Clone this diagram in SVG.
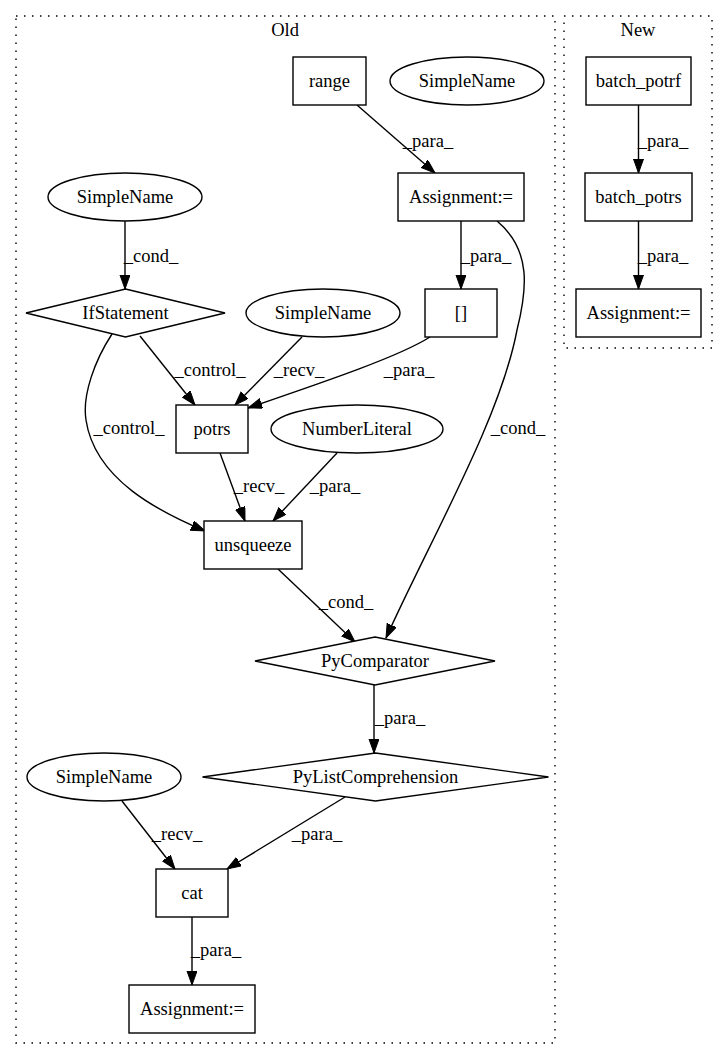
<svg xmlns="http://www.w3.org/2000/svg" width="728" height="1060" viewBox="0 0 728 1060">
<style>
text{font-family:"Liberation Serif","Times New Roman",serif;font-size:18.5px;fill:#000;text-anchor:middle}
.n{fill:#fff;stroke:#000;stroke-width:1.4}
.c{fill:none;stroke:#000;stroke-width:1.4;stroke-dasharray:1.5,6.5}
.e{fill:none;stroke:#000;stroke-width:1.4;marker-end:url(#a)}
</style>
<defs>
<marker id="a" markerUnits="userSpaceOnUse" markerWidth="15" markerHeight="11" refX="14" refY="5" orient="auto" viewBox="0 0 15 11">
<path d="M0,0 L14,5 L0,10 z" fill="#000" stroke="#000" stroke-width="1"/>
</marker>
</defs>
<rect width="728" height="1060" fill="#fff"/>
<g id="cluster_old">
<rect class="c" x="16" y="16" width="539" height="1027"/>
<text x="285" y="36">Old</text>
</g>
<g id="cluster_new">
<rect class="c" x="564" y="16" width="148" height="332"/>
<text x="638" y="36">New</text>
</g>
<g id="edges">
<path class="e" d="M357,105 L435,173"/>
<text x="428" y="147">_para_</text>
<path class="e" d="M461,221 L461,289"/>
<text x="486" y="262">_para_</text>
<path class="e" d="M497,221 C532,250 527,290 517,330 C500,420 430,540 386,638"/>
<text x="518" y="434">_cond_</text>
<path class="e" d="M125,221 L125,289"/>
<text x="151" y="262">_cond_</text>
<path class="e" d="M140,336 L195,405"/>
<text x="210" y="376">_control_</text>
<path class="e" d="M302,337 L235,405"/>
<text x="299" y="376">_recv_</text>
<path class="e" d="M430,337 C400,356 330,380 248,408"/>
<text x="409" y="376">_para_</text>
<path class="e" d="M112,334 C95,360 82,395 86,420 C95,480 160,512 205,531"/>
<text x="129" y="434">_control_</text>
<path class="e" d="M220,453 L245,521"/>
<text x="259" y="492">_recv_</text>
<path class="e" d="M337,453 L273,521"/>
<text x="335" y="492">_para_</text>
<path class="e" d="M278,569 L355,642"/>
<text x="346" y="608">_cond_</text>
<path class="e" d="M374,685 L374,753"/>
<text x="400" y="724">_para_</text>
<path class="e" d="M122,801 L175,869"/>
<text x="177" y="840">_recv_</text>
<path class="e" d="M345,797 L227,869"/>
<text x="317" y="840">_para_</text>
<path class="e" d="M192,917 L192,985"/>
<text x="216" y="956">_para_</text>
<path class="e" d="M638.5,105 L638.5,173"/>
<text x="663" y="147">_para_</text>
<path class="e" d="M638.5,221 L638.5,289"/>
<text x="663" y="262">_para_</text>
</g>
<g id="range"><rect class="n" x="293" y="57" width="73" height="48"/><text x="329.5" y="87">range</text></g>
<g id="simplename_top"><ellipse class="n" cx="467" cy="81" rx="77" ry="24"/><text x="467" y="87">SimpleName</text></g>
<g id="assign_old_top"><rect class="n" x="398" y="173" width="126" height="48"/><text x="461" y="203">Assignment:=</text></g>
<g id="index"><rect class="n" x="425" y="289" width="72" height="48"/><text x="461" y="319">[]</text></g>
<g id="simplename_left"><ellipse class="n" cx="125" cy="197" rx="77" ry="24"/><text x="125" y="203">SimpleName</text></g>
<g id="ifstatement"><polygon class="n" points="125.5,289 225,313 125.5,337 26,313"/><text x="125.5" y="319">IfStatement</text></g>
<g id="simplename_mid"><ellipse class="n" cx="323" cy="313" rx="77" ry="24"/><text x="323" y="319">SimpleName</text></g>
<g id="potrs"><rect class="n" x="176" y="405" width="72" height="48"/><text x="212" y="435">potrs</text></g>
<g id="numberliteral"><ellipse class="n" cx="357" cy="429" rx="86" ry="24"/><text x="357" y="435">NumberLiteral</text></g>
<g id="unsqueeze"><rect class="n" x="204" y="521" width="98" height="48"/><text x="253" y="551">unsqueeze</text></g>
<g id="pycomparator"><polygon class="n" points="375,637 495,661 375,685 255,661"/><text x="375" y="667">PyComparator</text></g>
<g id="pylistcomp"><polygon class="n" points="375.5,753 548.5,777 375.5,801 202.5,777"/><text x="375.5" y="783">PyListComprehension</text></g>
<g id="simplename_bottom"><ellipse class="n" cx="104" cy="777" rx="77" ry="24"/><text x="104" y="783">SimpleName</text></g>
<g id="cat"><rect class="n" x="156" y="869" width="72" height="48"/><text x="192" y="899">cat</text></g>
<g id="assign_old_bottom"><rect class="n" x="129" y="985" width="126" height="48"/><text x="192" y="1015">Assignment:=</text></g>
<g id="batch_potrf"><rect class="n" x="586" y="57" width="105" height="48"/><text x="638.5" y="87">batch_potrf</text></g>
<g id="batch_potrs"><rect class="n" x="585" y="173" width="107" height="48"/><text x="638.5" y="203">batch_potrs</text></g>
<g id="assign_new"><rect class="n" x="576" y="289" width="125" height="48"/><text x="638.5" y="319">Assignment:=</text></g>
</svg>
